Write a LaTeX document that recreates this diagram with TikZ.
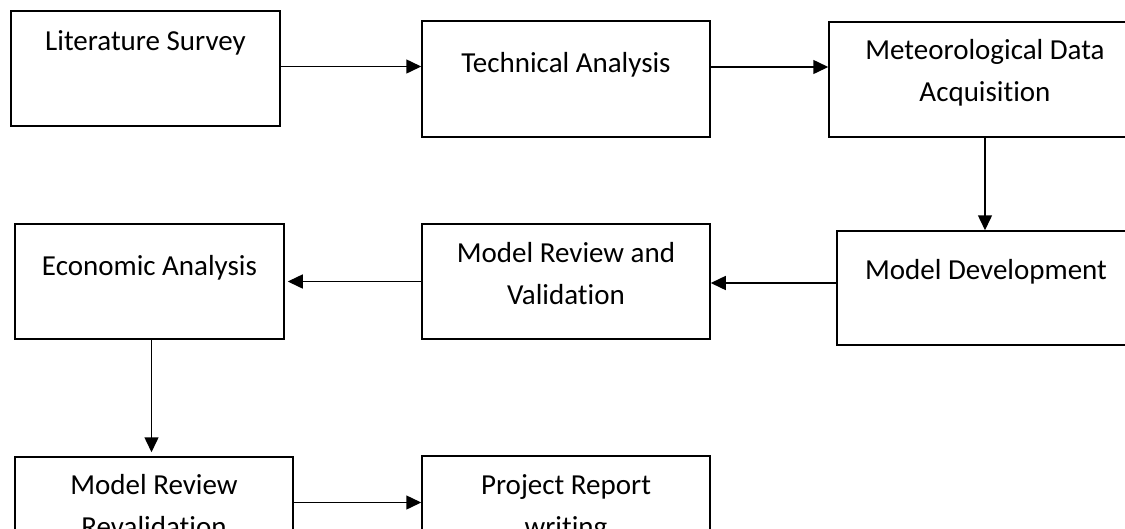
\documentclass[tikz,border=0pt]{standalone}
\usepackage{fontspec}
\setmainfont{Carlito}[RawFeature=-liga]
\usetikzlibrary{arrows.meta}
\tikzset{
    box/.style={rectangle,draw=black,line width=1.5pt, inner sep=0, minimum width=#1},
    box/.default=288pt,
    txt/.style={anchor=base, text width=300pt, align=flush center, inner sep=0, font=\fontsize{29}{42}\selectfont},
    flow/.style={line width=1.5pt, -{Triangle[length=15pt,width=14pt]}}
}

\begin{document}
\begin{tikzpicture}[x=1pt,y=-1pt]
    \useasboundingbox (0,0) rectangle (1125,528);
    \clip (0,0) rectangle (1125,528);
    \node[box=269pt, minimum height=115pt] (lit) at (145.5,68.5) {};
    \node[box=288pt, minimum height=116pt] (tech) at (566,79) {};
    \node[box=312pt, minimum height=115pt] (met) at (985,79.5) {};
    \node[box=298pt, minimum height=114pt] (dev) at (986,288) {};
    \node[box=288pt, minimum height=115pt] (mrv) at (566,281.5) {};
    \node[box=269pt, minimum height=115pt] (econ) at (149.5,281.5) {};
    \node[box=278pt, minimum height=115pt] (mrr) at (154,514.5) {};
    \node[box=288pt, minimum height=115pt] (proj) at (566,513.5) {};

    \node[txt] (littxt) at ([yshift=-40pt]lit.north) {Literature Survey};
    \node[txt] (techtxt) at ([yshift=-52pt]tech.north) {Technical Analysis};
    \node[txt] (mettxt) at ([yshift=-38pt]met.north) {Meteorological Data\\Acquisition};
    \node[txt] (devtxt) at ([yshift=-49pt]dev.north) {Model Development};
    \node[txt] (mrvtxt) at ([yshift=-39pt]mrv.north) {Model Review and\\Validation};
    \node[txt] (econtxt) at ([yshift=-52pt]econ.north) {Economic Analysis};
    \node[txt] (mrrtxt) at ([yshift=-38pt]mrr.north) {Model Review\\Revalidation};
    \node[txt] (projtxt) at ([yshift=-39pt]proj.north) {Project Report\\writing};

    \draw[flow] ([yshift=2pt]lit.east) -- ([yshift=2pt]lit.east -| tech.west);
    \draw[flow] ([yshift=12pt]tech.east) -- ([yshift=12pt]tech.east -| met.west);
    \draw[flow] (met.south) -- (met.south |- dev.north);
    \draw[flow] ([yshift=5pt]dev.west) -- ([yshift=5pt]dev.west -| mrv.east);
    \draw[flow] (mrv.west) -- ([xshift=3pt]mrv.west -| econ.east);
    \draw[flow] ([xshift=2pt]econ.south) -- ([xshift=2pt,yshift=4pt]econ.south |- mrr.north);
    \draw[flow] ([yshift=12pt]mrr.east) -- ([yshift=12pt]mrr.east -| proj.west);
\end{tikzpicture}
\end{document}
